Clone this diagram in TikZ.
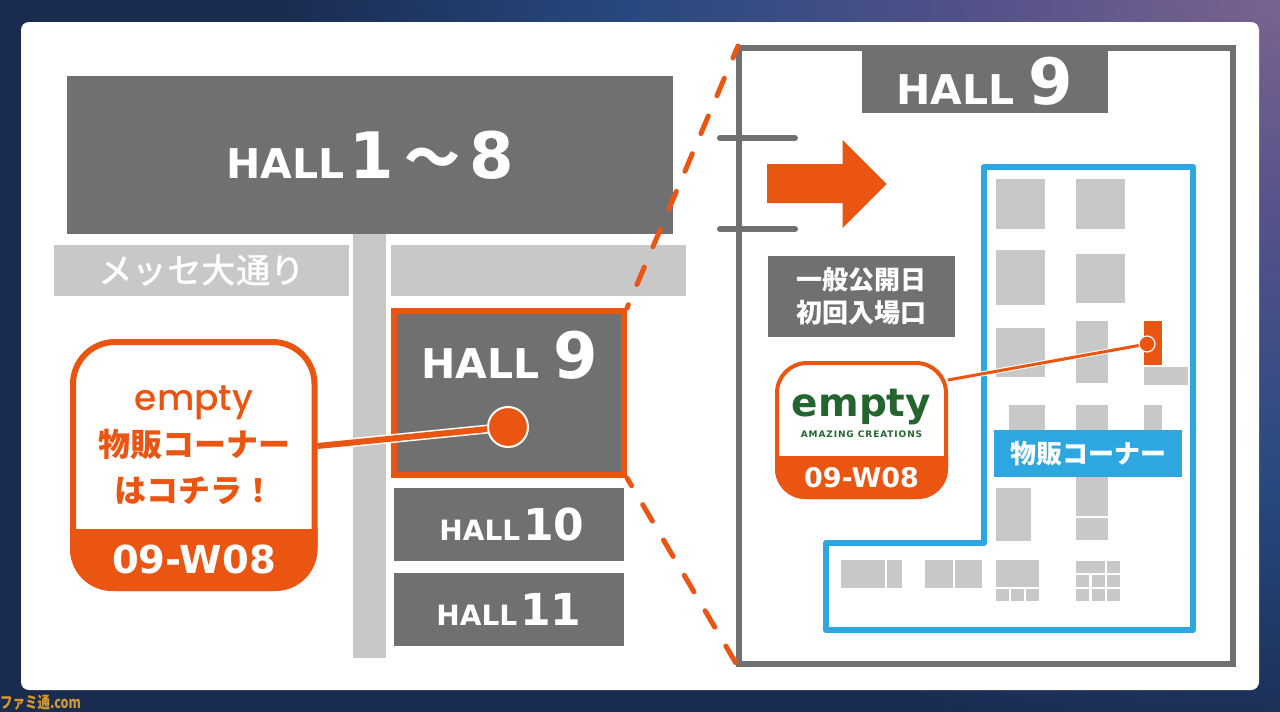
\documentclass[tikz,border=0pt]{standalone}
\usepackage{fontspec}
\setmainfont{DejaVu Sans}
\newfontfamily\cjk{Noto Sans CJK JP}
\newfontfamily\cjkmid[UprightFont=* Medium]{Noto Sans CJK JP}
\newfontfamily\pinlatin[UprightFont=* Medium]{Poppins}
\usetikzlibrary{arrows.meta, positioning, shapes.geometric, calc}
\definecolor{HallGray}{HTML}{707070}
\definecolor{RoadGray}{HTML}{C8C8C8}
\definecolor{MarkOrange}{HTML}{EB5512}
\definecolor{ZoneBlue}{HTML}{2EA7E0}
\definecolor{LogoGreen}{HTML}{24652F}
\definecolor{BgNavy}{HTML}{1A2B50}
\definecolor{BgBlue}{HTML}{27497F}
\definecolor{BgPurple}{HTML}{7A6390}
\definecolor{BgViolet}{HTML}{55528A}
\definecolor{StampGold}{HTML}{D29A2C}
\pgfdeclareradialshading{bgglow}{\pgfpoint{0bp}{0bp}}{
    color(0bp)=(BgPurple); color(6bp)=(BgViolet);
    color(13.5bp)=(BgBlue); color(21bp)=(BgNavy); color(100bp)=(BgNavy)}
\newcommand{\hallname}[3]{{\fontsize{#1}{#1}\selectfont\bfseries HALL}{\fontsize{#2}{#2}\selectfont\bfseries #3}}
\tikzset{
    hallbox/.style={
        rectangle,
        fill=HallGray,
        text=white,
        inner sep=0pt,
        align=center
    },
    roadbox/.style={
        rectangle,
        fill=RoadGray,
        text=white,
        inner sep=0pt
    },
    tagtext/.style={
        text=white,
        inner sep=0pt,
        font=\bfseries
    },
    pintext/.style={
        text=MarkOrange,
        inner sep=0pt,
        align=center,
        font=\cjk\bfseries\fontsize{32}{46}\selectfont
    },
    zoomline/.style={
        draw=MarkOrange,
        line width=5pt,
        line cap=round
    },
    doorline/.style={
        draw=HallGray,
        line width=6pt,
        line cap=round
    },
    booth/.style={
        fill=RoadGray
    }
}
\begin{document}
\begin{tikzpicture}[x=1pt, y=-1pt]
    \useasboundingbox (0,0) rectangle (1280,712);

    % Backdrop
    \begin{scope}
        \clip (0,0) rectangle (1280,712);
        \fill[BgNavy] (0,0) rectangle (1280,712);
        \shade[shading=bgglow] (80,-900) rectangle (2480,900);
    \end{scope}
    \fill[white, rounded corners=8pt] (21,22) rectangle (1259,690);

    % Site map
    \node[hallbox, minimum width=606pt, minimum height=158pt] (hallmain) at (370,155)
        {\hallname{41}{64}{\hspace{5pt}1\hspace{10pt}{\cjk\fontsize{56}{56}\selectfont ～}\hspace{9pt}8}};
    \node[roadbox, minimum width=295pt, minimum height=51pt] (roadleft) at (201.5,270.5)
        {\cjkmid\fontsize{34.5}{34.5}\selectfont メッセ大通り};
    \node[roadbox, minimum width=295pt, minimum height=51pt] (roadright) at (538.5,270.5) {};
    \node[roadbox, minimum width=33pt, minimum height=424pt] (roadcross) at (369.5,446) {};
    \node[hallbox, draw=MarkOrange, line width=6pt, minimum width=230pt, minimum height=164pt] (hallnine) at (509,393) {};
    \node[tagtext] (hallninename) at (510,355) {\hallname{41}{64}{\hspace{14pt}9}};
    \node[hallbox, minimum width=230pt, minimum height=73pt] (hallten) at (509,524.5)
        {\hspace{6pt}\hallname{28}{44}{\hspace{3pt}10}};
    \node[hallbox, minimum width=230pt, minimum height=73pt] (halleleven) at (509,609.5)
        {\hallname{28}{44}{\hspace{3pt}11}};

    % Hall plan
    \node[rectangle, draw=HallGray, line width=6pt, fill=white, minimum width=494pt, minimum height=616pt] (planframe) at (985.5,356) {};
    \node[hallbox, minimum width=246pt, minimum height=62pt] (plantab) at (985,82)
        {\raisebox{3pt}{\hallname{41}{64}{\hspace{14pt}9}}};
    \coordinate (doorAa) at (720,138);
    \coordinate (doorAb) at (795,138);
    \coordinate (doorBa) at (720,229);
    \coordinate (doorBb) at (795,229);
    \draw[doorline] (doorAa) -- (doorAb);
    \draw[doorline] (doorBa) -- (doorBb);
    \fill[MarkOrange] (767,164) -- (842.5,164) -- (842.5,140) -- (886.5,184) -- (842.5,228) -- (842.5,203) -- (767,203) -- cycle;
    \node[hallbox, minimum width=187pt, minimum height=81pt, font=\cjk\bfseries\fontsize{26}{33}\selectfont] (gatelabel) at (861.5,296.5)
        {一般公開日\\初回入場口};

    % Zoom lines
    \coordinate (zoomtop) at (738,46);
    \coordinate (zoombottom) at (737,665);
    \draw[zoomline, dash pattern=on 19pt off 22pt, dash phase=6pt] (zoomtop) -- (hallnine.north east);
    \draw[zoomline, dash pattern=on 19pt off 22pt, dash phase=10pt] (hallnine.south east) -- (zoombottom);

    % Booths
    \foreach \xa/\ya/\xb/\yb in {
        995.7/179.3/1045/228.7, 1076.3/179.3/1125.3/228.7,
        995.7/249.7/1045/305, 1076.3/254/1125.3/303,
        995.7/327.7/1045/376.7, 1076.3/321/1108/382.7,
        1144/367/1188/385, 1008.7/405/1045/431,
        1076.3/405/1108/516, 1076.3/518.3/1108/540.3,
        1144/405/1162/431, 995.7/488/1031/541,
        841.3/560/885/588, 887/560/902.3/588,
        925.3/560/952.7/588, 954.7/560/981.7/588,
        996/560/1039/587.3, 996/589.3/1009.3/601,
        1011/589.3/1024.3/601, 1025.7/589.3/1039/601,
        1076.3/561.3/1104.7/573, 1106.7/561.3/1120/573,
        1076.3/575.3/1089.3/587, 1091.7/575.3/1104.7/587, 1106.7/575.3/1120/587,
        1076.3/589.3/1089.3/601, 1091.7/589.3/1104.7/601, 1106.7/589.3/1120/601}
    {
        \fill[booth] (\xa,\ya) rectangle (\xb,\yb);
    }
    \fill[MarkOrange] (1144,321) rectangle (1162,365);
    \draw[ZoneBlue, line width=6pt, line join=round] (984,167) -- (1193,167) -- (1193,630) -- (826,630) -- (826,543) -- (984,543) -- cycle;
    \node[hallbox, fill=ZoneBlue, minimum width=187.5pt, minimum height=47pt] (zonelabel) at (1088,453.5)
        {\cjk\bfseries\fontsize{26}{26}\selectfont 物販コーナー};

    % Big pin
    \coordinate (bigpin) at (317.5,446);
    \coordinate (bigdot) at (508,427);
    \draw[white, line width=9pt] (bigpin) -- (bigdot);
    \draw[MarkOrange, line width=6pt] (bigpin) -- (bigdot);
    \node[circle, fill=MarkOrange, draw=white, line width=2pt, minimum size=40pt, inner sep=0pt] (bigmark) at (bigdot) {};
    \path[draw=MarkOrange, fill=white, line width=6pt, rounded corners=42pt] (73,342) rectangle (314.5,588);
    \begin{scope}
        \clip (60,529) rectangle (330,600);
        \fill[MarkOrange, rounded corners=42pt] (70,339) rectangle (317.5,591);
    \end{scope}
    \node[pintext] (bigtext) at (194,445) {{\pinlatin\mdseries\fontsize{36}{46}\selectfont empty}\\物販コーナー\\はコチラ！};
    \node[tagtext, font=\bfseries\fontsize{38.5}{38.5}\selectfont] (bigcode) at (194,559) {09-W08};

    % Small pin
    \coordinate (smallpin) at (948,380);
    \coordinate (smalldot) at (1147,344);
    \draw[white, line width=5pt] (smallpin) -- (smalldot);
    \draw[MarkOrange, line width=3pt] (smallpin) -- (smalldot);
    \node[circle, fill=MarkOrange, draw=white, line width=1.2pt, minimum size=16pt, inner sep=0pt] (smallmark) at (smalldot) {};
    \path[draw=MarkOrange, fill=white, line width=4pt, rounded corners=30pt] (777,363) rectangle (946,497);
    \begin{scope}
        \clip (770,456) rectangle (955,505);
        \fill[MarkOrange, rounded corners=30pt] (775,361) rectangle (948,499);
    \end{scope}
    \node[inner sep=0pt, anchor=base, text=LogoGreen, font=\bfseries\fontsize{39}{39}\selectfont] (logoname) at (861.5,416.7) {empty};
    \node[inner sep=0pt, text=LogoGreen, font=\bfseries\fontsize{9}{9}\selectfont] (logotag) at (861.5,434) {\addfontfeature{LetterSpace=10}AMAZING CREATIONS};
    \node[tagtext, font=\bfseries\fontsize{27}{27}\selectfont] (smallcode) at (861.5,478) {09-W08};

    % Stamp
    \node[inner sep=0pt, anchor=west, text=StampGold, font=\cjk\bfseries\fontsize{16}{16}\selectfont] (stamp) at (0,703) {\scalebox{.78}[1]{ファミ通.com}};
\end{tikzpicture}
\end{document}
